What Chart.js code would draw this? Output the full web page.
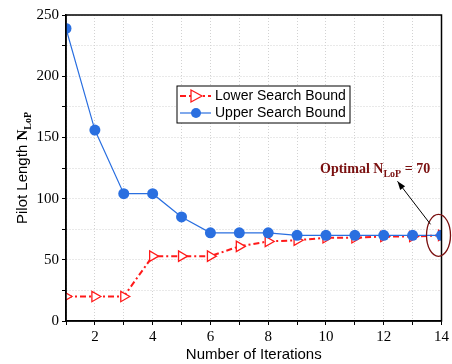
<!DOCTYPE html>
<html>
<head>
<meta charset="utf-8">
<script src="https://cdn.jsdelivr.net/npm/chart.js@4/dist/chart.umd.min.js"></script>
<style>
  body { margin: 0; background: #fff; }
  #wrap { width: 452px; height: 364px; }
</style>
</head>
<body>
<div id="wrap"><canvas id="chart" width="452" height="364"></canvas></div>
<script>
const iterations = [1, 2, 3, 4, 5, 6, 7, 8, 9, 10, 11, 12, 13, 14];
const lowerBound = [20, 20, 20, 53, 53, 53, 61, 65, 66, 68, 68, 69, 69, 70];
const upperBound = [239, 156, 104, 104, 85, 72, 72, 72, 70, 70, 70, 70, 70, 70];
const xTickLabels = [2, 4, 6, 8, 10, 12, 14];
const yTickLabels = [0, 50, 100, 150, 200, 250];

const red = '#ff1a1a';
const blue = '#2a6fe0';
const darkRed = '#7a1010';
const serif = '"Liberation Serif", "Times New Roman", serif';
const sans = '"Liberation Sans", Arial, sans-serif';

// frame, y title, legend box and the annotation
const extras = {
    id: 'extras',
    afterDraw(c) {
        const ctx = c.ctx;
        const a = c.chartArea;
        ctx.save();
        ctx.strokeStyle = '#000';
        ctx.lineWidth = 1.5;
        ctx.strokeRect(a.left, a.top, a.right - a.left, a.bottom - a.top);

        // y axis title with subscript
        ctx.save();
        ctx.translate(22, (a.top + a.bottom) / 2);
        ctx.rotate(-Math.PI / 2);
        ctx.fillStyle = '#000';
        ctx.textBaseline = 'alphabetic';
        const t1 = 'Pilot Length ';
        ctx.font = '15px ' + sans;
        const w1 = ctx.measureText(t1).width;
        ctx.font = 'bold 15px ' + serif;
        const w2 = ctx.measureText('N').width;
        ctx.font = 'bold 10px ' + serif;
        const w3 = ctx.measureText('LoP').width;
        let x0 = -(w1 + w2 + w3) / 2;
        ctx.font = '15px ' + sans;
        ctx.fillText(t1, x0, 5);
        ctx.font = 'bold 15px ' + serif;
        ctx.fillText('N', x0 + w1, 5);
        ctx.font = 'bold 10px ' + serif;
        ctx.fillText('LoP', x0 + w1 + w2, 9);
        ctx.restore();

        // legend
        const lx = 177, ly = 86, lw = 173, lh = 37;
        ctx.fillStyle = '#fff';
        ctx.fillRect(lx, ly, lw, lh);
        ctx.strokeStyle = '#000';
        ctx.lineWidth = 1;
        ctx.strokeRect(lx, ly, lw, lh);
        ctx.font = '14px ' + sans;
        ctx.textBaseline = 'middle';
        ctx.fillStyle = '#000';
        ctx.fillText('Lower Search Bound', lx + 38, ly + 10);
        ctx.fillText('Upper Search Bound', lx + 38, ly + 27);
        ctx.strokeStyle = red;
        ctx.lineWidth = 2;
        ctx.setLineDash([6, 3, 2, 3]);
        ctx.beginPath(); ctx.moveTo(lx + 3, ly + 10); ctx.lineTo(lx + 34, ly + 10); ctx.stroke();
        ctx.setLineDash([]);
        ctx.fillStyle = '#fff';
        ctx.beginPath();
        ctx.moveTo(lx + 14, ly + 4); ctx.lineTo(lx + 25, ly + 10); ctx.lineTo(lx + 14, ly + 16); ctx.closePath();
        ctx.fill(); ctx.lineWidth = 1.3; ctx.stroke();
        ctx.strokeStyle = blue;
        ctx.lineWidth = 1.2;
        ctx.beginPath(); ctx.moveTo(lx + 3, ly + 27); ctx.lineTo(lx + 34, ly + 27); ctx.stroke();
        ctx.fillStyle = blue;
        ctx.beginPath(); ctx.arc(lx + 19, ly + 27, 5, 0, Math.PI * 2); ctx.fill();

        // annotation
        const px = c.scales.x.getPixelForValue(iterations[13]);
        const py = c.scales.y.getPixelForValue(upperBound[13]);
        ctx.strokeStyle = darkRed;
        ctx.lineWidth = 1.3;
        ctx.beginPath(); ctx.ellipse(px - 3, py, 12, 21, 0, 0, Math.PI * 2); ctx.stroke();
        ctx.strokeStyle = '#000';
        ctx.fillStyle = '#000';
        ctx.lineWidth = 1;
        const ax0 = px - 11, ay0 = py - 11, ax1 = px - 44, ay1 = py - 54;
        ctx.beginPath(); ctx.moveTo(ax0, ay0); ctx.lineTo(ax1, ay1); ctx.stroke();
        const ang = Math.atan2(ay1 - ay0, ax1 - ax0);
        ctx.beginPath();
        ctx.moveTo(ax1, ay1);
        ctx.lineTo(ax1 - 9 * Math.cos(ang - 0.35), ay1 - 9 * Math.sin(ang - 0.35));
        ctx.lineTo(ax1 - 9 * Math.cos(ang + 0.35), ay1 - 9 * Math.sin(ang + 0.35));
        ctx.closePath(); ctx.fill();

        ctx.fillStyle = darkRed;
        ctx.textBaseline = 'alphabetic';
        let tx = 320, ty = 173;
        ctx.font = 'bold 14px ' + serif;
        ctx.fillText('Optimal N', tx, ty);
        tx += ctx.measureText('Optimal N').width;
        ctx.font = 'bold 10px ' + serif;
        ctx.fillText('LoP', tx, ty + 4);
        tx += ctx.measureText('LoP').width;
        ctx.font = 'bold 14px ' + serif;
        ctx.fillText(' = 70', tx, ty);
        ctx.restore();
    }
};

new Chart(document.querySelector('#chart').getContext('2d'), {
    type: 'line',
    data: {
        labels: iterations,
        datasets: [
            {
                label: 'Upper Search Bound',
                data: iterations.map((x, i) => ({x: x, y: upperBound[i]})),
                borderColor: blue,
                backgroundColor: blue,
                borderWidth: 1.2,
                pointRadius: 5.5,
                pointHoverRadius: 5.5,
                pointBorderWidth: 0,
                tension: 0
            },
            {
                label: 'Lower Search Bound',
                data: iterations.map((x, i) => ({x: x, y: lowerBound[i]})),
                borderColor: red,
                backgroundColor: '#fff',
                borderWidth: 2,
                borderDash: [6, 3, 2, 3],
                pointStyle: 'triangle',
                rotation: 90,
                pointRadius: 6,
                pointHoverRadius: 6,
                pointBorderWidth: 1.3,
                tension: 0
            }
        ]
    },
    options: {
        responsive: false,
        animation: false,
        layout: { padding: { top: 15, right: 6, left: 0, bottom: 0 } },
        plugins: { legend: { display: false }, tooltip: { enabled: false } },
        scales: {
            x: {
                type: 'linear',
                min: 1,
                max: 14,
                afterFit: s => { s.height = 43; },
                ticks: {
                    stepSize: 1,
                    autoSkip: false,
                    maxRotation: 0,
                    color: '#000',
                    padding: 3,
                    font: { family: serif, size: 15 },
                    callback: v => xTickLabels.includes(v) ? String(v) : ''
                },
                grid: { color: '#d2d2d2', lineWidth: 1, tickLength: 4, tickColor: '#000' },
                border: { display: true, color: '#000', width: 1.5, dash: [1, 2] },
                title: { display: true, text: 'Number of Iterations', color: '#000', font: { family: sans, size: 15 }, padding: { top: 0, bottom: 0 } }
            },
            y: {
                min: 0,
                max: 250,
                afterFit: s => { s.width = 66; },
                ticks: {
                    stepSize: 25,
                    autoSkip: false,
                    color: '#000',
                    padding: 3,
                    font: { family: serif, size: 15 },
                    callback: v => yTickLabels.includes(v) ? String(v) : ''
                },
                grid: { color: '#d2d2d2', lineWidth: 1, tickLength: 4, tickColor: '#000' },
                border: { display: true, color: '#000', width: 1.5, dash: [1, 2] }
            }
        }
    },
    plugins: [extras]
});
</script>
</body>
</html>
